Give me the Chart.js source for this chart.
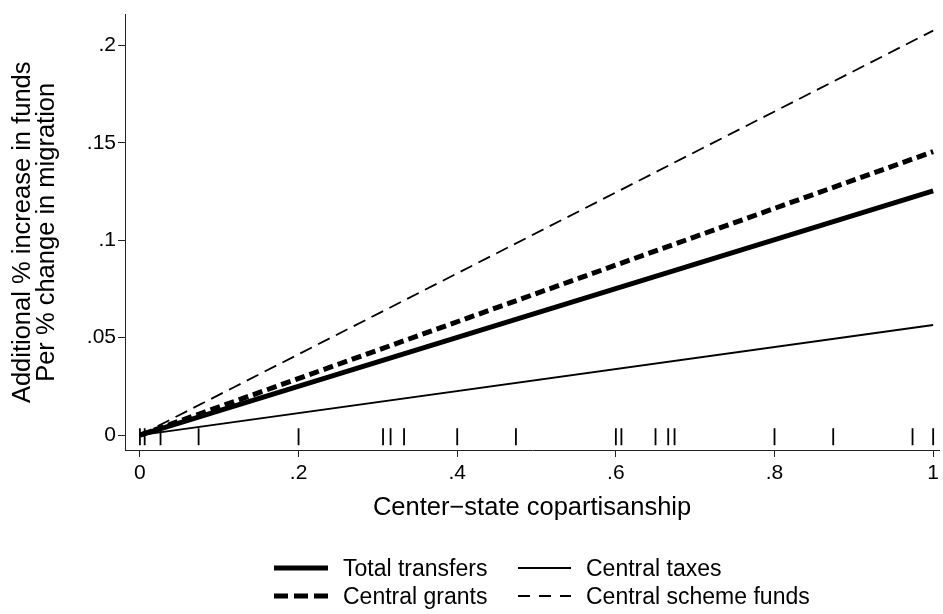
<!DOCTYPE html>
<html lang="en">
<head>
  <meta charset="UTF-8" />
  <title>Copartisanship and migration</title>
  <script src="https://cdn.jsdelivr.net/npm/chart.js"></script>
  <style>
    html, body { margin: 0; padding: 0; background: #fff; }
    .wrap { position: relative; width: 943px; height: 614px; }
    canvas { position: absolute; left: 0; top: 0; }
    .legend { font-family: "Liberation Sans", Arial, sans-serif; font-size: 23px; color: #000; }
    .legend .item { position: absolute; display: flex; align-items: center; height: 28px; white-space: nowrap; }
    .legend svg { margin-right: 15px; }
  </style>
</head>
<body>
<div class="wrap">
  <canvas id="chart" width="943" height="614"></canvas>
  <div class="legend" id="legend"></div>
</div>

<script>
  // data
  const xEnds = [0, 1];
  const totalTransfers = [0, 0.1253];
  const centralTaxes = [0, 0.0565];
  const centralGrants = [0, 0.1454];
  const centralScheme = [0, 0.2075];
  const rugX = [0, 0.006, 0.026, 0.074, 0.2, 0.3065, 0.316, 0.333, 0.4, 0.474,
                0.600, 0.607, 0.650, 0.666, 0.674, 0.800, 0.874, 0.974, 1.0];
  const rugLevel = -0.0008;
  const xTicks = [0, 0.2, 0.4, 0.6, 0.8, 1];
  const yTicks = [0, 0.05, 0.1, 0.15, 0.2];
  const xTitle = 'Center\u2212state copartisanship';
  const yTitle = ['Additional % increase in funds', 'Per % change in migration'];

  Chart.defaults.font.family = '"Liberation Sans", Arial, sans-serif';
  Chart.defaults.color = '#000';

  const pts = arr => xEnds.map((x, i) => ({ x: x, y: arr[i] }));
  // Stata style labels: .2 instead of 0.2
  const fmt = v => v === 0 ? '0' : String(+v.toFixed(3)).replace(/^0\./, '.');

  const lineSet = (label, arr, width, dash, inLegend) => ({
    label: label,
    data: pts(arr),
    showLine: true,
    borderColor: '#000',
    borderWidth: width,
    borderDash: dash,
    borderCapStyle: 'butt',
    pointRadius: 0,
    fill: false,
    inLegend: inLegend
  });

  const datasets = [
    lineSet('Total transfers', totalTransfers, 5, [], 0),
    lineSet('Central taxes', centralTaxes, 1.8, [], 1),
    lineSet('Central grants', centralGrants, 5, [10, 5], 2),
    lineSet('Central scheme funds', centralScheme, 1.8, [13, 7], 3),
    {
      label: 'rug',
      data: rugX.map(x => ({ x: x, y: rugLevel })),
      showLine: false,
      pointStyle: 'line',
      rotation: 90,
      pointRadius: 8.5,
      borderColor: '#000',
      borderWidth: 1.8,
      backgroundColor: '#000'
    }
  ];

  const axisColor = '#222';

  new Chart(document.getElementById('chart'), {
    type: 'scatter',
    data: { datasets: datasets },
    options: {
      responsive: false,
      animation: false,
      clip: false,
      layout: { autoPadding: false, padding: { top: 10, right: 0, bottom: 91, left: 0 } },
      plugins: { legend: { display: false }, tooltip: { enabled: false } },
      scales: {
        x: {
          type: 'linear',
          min: -0.0188,
          max: 1.0075,
          afterBuildTicks: s => { s.ticks = xTicks.map(v => ({ value: v })); },
          afterFit: s => { s.height = 73; },
          grid: { drawOnChartArea: false, tickLength: 7, color: axisColor },
          border: { color: axisColor, width: 1 },
          ticks: { font: { size: 21 }, padding: 4, maxRotation: 0, autoSkip: false, callback: fmt },
          title: { display: true, text: xTitle, font: { size: 25.5 }, padding: 0 }
        },
        y: {
          type: 'linear',
          min: -0.0076,
          max: 0.2157,
          afterBuildTicks: s => { s.ticks = yTicks.map(v => ({ value: v })); },
          afterFit: s => { s.width = 125; },
          grid: { drawOnChartArea: false, tickLength: 7, color: axisColor },
          border: { color: axisColor, width: 1 },
          ticks: { font: { size: 21 }, padding: 2, autoSkip: false, callback: fmt },
          title: { display: true, text: yTitle, font: { size: 25.5, lineHeight: 0.94 }, padding: { top: 11, bottom: 0 } }
        }
      }
    }
  });

  // legend, two columns like the original
  const legendPos = [[274, 554], [518, 554], [274, 582], [518, 582]];
  const legendEl = document.getElementById('legend');
  datasets.filter(d => d.inLegend !== undefined).forEach(d => {
    const [left, top] = legendPos[d.inLegend];
    const item = document.createElement('div');
    item.className = 'item';
    item.style.left = left + 'px';
    item.style.top = top + 'px';
    const sw = d.borderWidth > 3 ? 54 : 53;
    item.innerHTML =
      '<svg width="' + sw + '" height="10"><line x1="0" y1="5" x2="' + sw + '" y2="5" stroke="#000" stroke-width="' +
      d.borderWidth + '"' + (d.borderDash.length ? ' stroke-dasharray="' + (d.borderWidth > 3 ? '14,6' : '12,9') + '"' : '') +
      '/></svg><span>' + d.label + '</span>';
    legendEl.appendChild(item);
  });
</script>
</body>
</html>
